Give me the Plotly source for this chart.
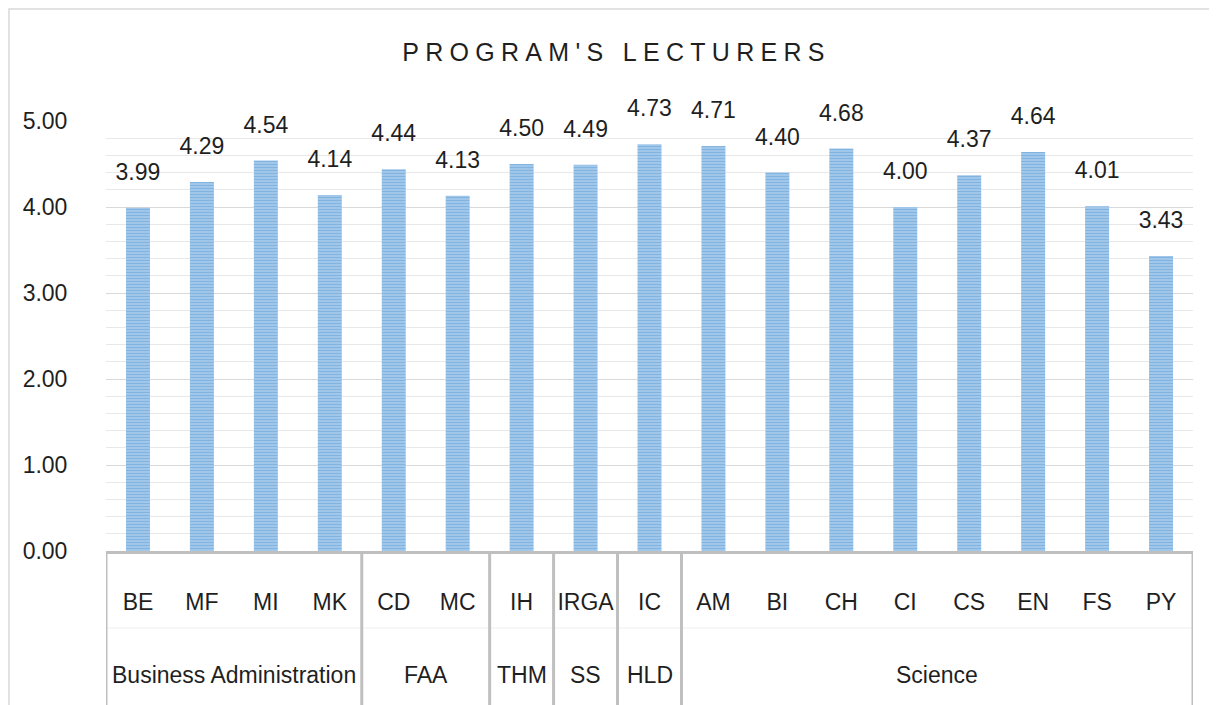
import plotly.graph_objects as go

# ---- data ----
groups = ["Business Administration"] * 4 + ["FAA"] * 2 + ["THM", "SS", "HLD"] + ["Science"] * 8
codes = ["BE", "MF", "MI", "MK", "CD", "MC", "IH", "IRGA", "IC",
         "AM", "BI", "CH", "CI", "CS", "EN", "FS", "PY"]
values = [3.99, 4.29, 4.54, 4.14, 4.44, 4.13, 4.50, 4.49, 4.73,
          4.71, 4.40, 4.68, 4.00, 4.37, 4.64, 4.01, 3.43]
title_text = "PROGRAM'S LECTURERS"

FONT = "Liberation Sans, Arial, sans-serif"
TXT = "#1f1f1f"
GRID = "#d9d9d9"
AXIS = "#bfbfbf"
n = len(codes)

# group spans (first index, last index) derived from the groups list
spans = []
for i, g in enumerate(groups):
    if spans and spans[-1][0] == g:
        spans[-1][2] = i
    else:
        spans.append([g, i, i])

fig = go.Figure()
fig.add_trace(go.Bar(
    x=codes, y=values, width=0.375,
    marker=dict(color="#5B9BD5",
                pattern=dict(shape="-", bgcolor="#A9CCEC", fgcolor="#5B9BD5",
                             size=3, solidity=0.5),
                line=dict(width=0)),
    hoverinfo="skip", showlegend=False,
))
fig.add_trace(go.Scatter(
    x=codes, y=values, mode="markers+text",
    marker=dict(size=34, opacity=0, color="white"),
    text=[f"{v:.2f}" for v in values], textposition="top center",
    textfont=dict(family=FONT, size=23, color=TXT),
    cliponaxis=False, hoverinfo="skip", showlegend=False,
))

shapes = [
    dict(type="rect", xref="paper", yref="paper",
         x0=(9 - 106) / 1087, x1=1.05, y0=-0.45, y1=(551 - 9) / 430,
         line=dict(color="#d9d9d9", width=1.5), fillcolor="rgba(0,0,0,0)",
         layer="below"),
    dict(type="line", xref="paper", yref="paper",
         x0=0, x1=1, y0=(551 - 628) / 430, y1=(551 - 628) / 430,
         line=dict(color="#eeeeee", width=1)),
]
annotations = []
bounds = sorted({s[1] - 0.5 for s in spans} | {s[2] + 0.5 for s in spans})
for b in bounds:
    shapes.append(dict(type="line", xref="x", yref="paper", x0=b, x1=b,
                       y0=0, y1=-0.45, line=dict(color=AXIS, width=3)))
for g, a, z in spans:
    annotations.append(dict(text=g, xref="x", yref="paper", x=(a + z) / 2,
                            y=(551 - 675) / 430, xanchor="center", yanchor="middle",
                            showarrow=False,
                            font=dict(family=FONT, size=23, color=TXT)))

fig.update_layout(
    width=1217, height=705,
    margin=dict(l=98, r=32, t=113, b=162),
    paper_bgcolor="white", plot_bgcolor="white",
    font=dict(family=FONT, size=23, color=TXT),
    title=dict(text=f"<span style='letter-spacing:6.3px'>{title_text}</span>",
               x=0.5, xanchor="center", y=1 - 44 / 705, yanchor="middle",
               font=dict(family=FONT, size=25, color=TXT)),
    xaxis=dict(type="category", range=[-0.5, n - 0.5], showgrid=False,
               showline=True, linecolor=AXIS, linewidth=3, ticks="",
               ticklabelstandoff=28, tickangle=0,
               tickfont=dict(family=FONT, size=23, color=TXT)),
    xaxis2=dict(overlaying="x", anchor="y", type="linear", range=[-0.5, n - 0.5],
                tick0=-0.5, dtick=0.5, showgrid=True, gridcolor=GRID, gridwidth=1,
                showticklabels=False, zeroline=False, showline=False),
    yaxis=dict(range=[0, 5], dtick=1, tickformat=".2f", showgrid=True,
               gridcolor=GRID, gridwidth=1, zeroline=False, showline=False,
               ticks="outside", ticklen=33, tickcolor="rgba(0,0,0,0)",
               tickfont=dict(family=FONT, size=23, color=TXT),
               minor=dict(dtick=0.2, showgrid=True, gridcolor="#e8e8e8", gridwidth=1)),
    shapes=shapes,
    annotations=annotations,
)

fig.write_html("out.html")
